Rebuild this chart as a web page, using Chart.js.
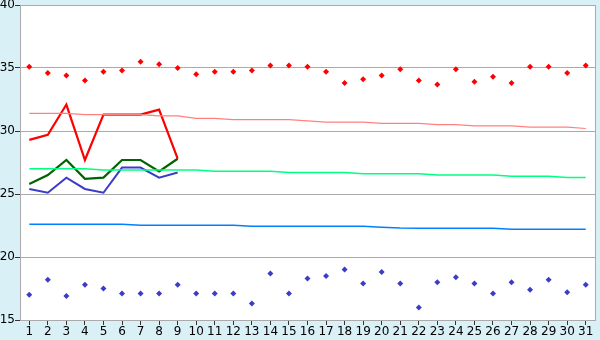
<!DOCTYPE html>
<html>
<head>
<meta charset="utf-8">
<script src="https://cdn.jsdelivr.net/npm/chart.js@4/dist/chart.umd.min.js"></script>
<style>
  html, body { margin: 0; padding: 0; background: #d9f0f6; }
  #wrap { width: 600px; height: 340px; }
</style>
</head>
<body>
<div id="wrap"><canvas id="chart" width="600" height="340"></canvas></div>
<script>
// ─────────── DATA ───────────
const dias = ['1','2','3','4','5','6','7','8','9','10','11','12','13','14','15','16',
              '17','18','19','20','21','22','23','24','25','26','27','28','29','30','31'];

// máximas diárias (pontos vermelhos)
const maximas = [35.1,34.6,34.4,34.0,34.7,34.8,35.5,35.3,35.0,34.5,34.7,34.7,34.8,35.2,35.2,35.1,
                 34.7,33.8,34.1,34.4,34.9,34.0,33.7,34.9,33.9,34.3,33.8,35.1,35.1,34.6,35.2];
// mínimas diárias (pontos azuis)
const minimas = [17.0,18.2,16.9,17.8,17.5,17.1,17.1,17.1,17.8,17.1,17.1,17.1,16.3,18.7,17.1,18.3,
                 18.5,19.0,17.9,18.8,17.9,16.0,18.0,18.4,17.9,17.1,18.0,17.4,18.2,17.2,17.8];

// mês corrente (só 9 dias)
const linhaMax = [29.3,29.7,32.1,27.7,31.3,31.3,31.3,31.7,27.8];
const linhaMed = [25.8,26.5,27.7,26.2,26.3,27.7,27.7,26.8,27.8];
const linhaMin = [25.4,25.1,26.3,25.4,25.1,27.1,27.1,26.3,26.7];

// normais climatológicas
const normalMax = [31.4,31.4,31.4,31.3,31.3,31.3,31.3,31.2,31.2,31.0,31.0,30.9,30.9,30.9,30.9,30.8,
                   30.7,30.7,30.7,30.6,30.6,30.6,30.5,30.5,30.4,30.4,30.4,30.3,30.3,30.3,30.2];
const normalMed = [27.0,27.0,27.0,27.0,26.9,26.9,26.9,26.9,26.9,26.9,26.8,26.8,26.8,26.8,26.7,26.7,
                   26.7,26.7,26.6,26.6,26.6,26.6,26.5,26.5,26.5,26.5,26.4,26.4,26.4,26.3,26.3];
const normalMin = [22.6,22.6,22.6,22.6,22.6,22.6,22.52,22.52,22.52,22.52,22.52,22.52,22.44,22.44,22.44,22.44,
                   22.44,22.44,22.44,22.36,22.3,22.28,22.28,22.28,22.28,22.28,22.2,22.2,22.2,22.2,22.2];

const yTicks = [15, 20, 25, 30, 35, 40];

// ─────────── CHART ───────────
const fundo = {
  id: 'fundo',
  beforeDraw(chart) {
    const { ctx, chartArea: a } = chart;
    ctx.save();
    ctx.fillStyle = '#d9f0f6';
    ctx.fillRect(0, 0, chart.width, chart.height);
    ctx.fillStyle = '#ffffff';
    ctx.fillRect(a.left, a.top, a.right - a.left, a.bottom - a.top);
    ctx.restore();
  }
};

const fonte = { family: 'DejaVu Sans', size: 12 };

function linha(data, color, width) {
  return { data, borderColor: color, backgroundColor: color, borderWidth: width,
           pointRadius: 0, tension: 0, fill: false };
}
function pontos(data, color) {
  return { data, showLine: false, borderColor: color, backgroundColor: color,
           pointStyle: 'rectRot', pointRadius: 3, pointBorderWidth: 0 };
}

new Chart(document.getElementById('chart'), {
  type: 'line',
  data: {
    labels: dias,
    datasets: [
      linha(normalMax, '#ff8080', 1.2),
      linha(normalMed, '#00ff80', 1.5),
      linha(normalMin, '#0080ff', 1.5),
      linha(linhaMax, '#ff0000', 2.2),
      linha(linhaMed, '#006400', 2.2),
      linha(linhaMin, '#3c3cc8', 2),
      pontos(maximas, '#ff0000'),
      pontos(minimas, '#3c3cc8'),
    ],
  },
  options: {
    responsive: false,
    animation: false,
    layout: { padding: { top: 5, right: 5, left: 0, bottom: 0 } },
    plugins: { legend: { display: false }, tooltip: { enabled: false } },
    scales: {
      x: {
        offset: true,
        grid: { drawOnChartArea: false, drawTicks: true, tickLength: 5, tickColor: '#333', offset: false },
        border: { color: '#aaaaaa', width: 1 },
        ticks: { color: '#000', font: fonte, padding: 0, maxRotation: 0, autoSkip: false },
        afterFit: s => { s.height = 20; s.paddingLeft = 0; s.paddingRight = 0; },
      },
      y: {
        min: 15, max: 40,
        afterBuildTicks: s => { s.ticks = yTicks.map(v => ({ value: v })); },
        grid: { color: '#aaaaaa', tickLength: 5, tickColor: '#333' },
        border: { color: '#aaaaaa', width: 1 },
        ticks: { color: '#000', font: fonte, padding: 0 },
        afterFit: s => { s.width = 20; s.paddingTop = 0; s.paddingBottom = 0; },
      },
      yR: {
        position: 'right', min: 15, max: 40,
        grid: { display: false, drawTicks: false },
        border: { color: '#aaaaaa', width: 1 },
        ticks: { display: false },
        afterFit: s => { s.width = 0; s.paddingTop = 0; s.paddingBottom = 0; },
      },
    },
  },
  plugins: [fundo],
});
</script>
</body>
</html>
